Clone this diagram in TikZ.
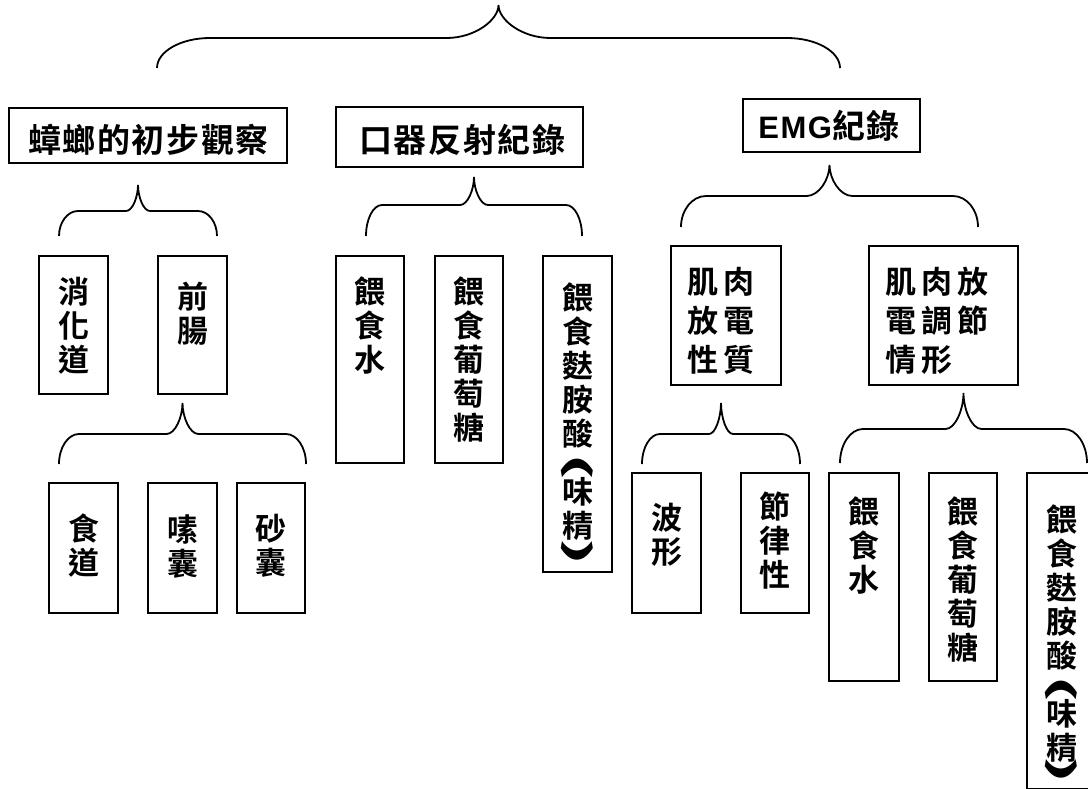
\documentclass[tikz,border=0pt]{standalone}
\usepackage{fontspec}
\newfontfamily\cjk{Noto Sans CJK TC}[UprightFont=* Bold]
\newfontfamily\cjkwide{Noto Sans CJK TC}[UprightFont=* Bold, LetterSpace=5]
\newfontfamily\cjkgrid{Noto Sans CJK TC}[UprightFont=* Bold, LetterSpace=16]
\newfontfamily\latinb{Liberation Sans}[UprightFont=* Bold, LetterSpace=5]

% curly bracket: left x, right x, end y, bar y, tip y, corner width, middle width
\newcommand{\kuohao}[7]{%
  \draw[brace] (#1,#3) .. controls (#1,{#4+0.45*(#3-#4)}) and ({#1+0.45*#6},#4) .. (#1+#6,#4)
    -- ({(#1+#2)/2-#7},#4) .. controls ({(#1+#2)/2-0.45*#7},#4) and ({(#1+#2)/2},{#5+0.45*(#4-#5)}) .. ({(#1+#2)/2},#5)
    .. controls ({(#1+#2)/2},{#5+0.45*(#4-#5)}) and ({(#1+#2)/2+0.45*#7},#4) .. ({(#1+#2)/2+#7},#4)
    -- (#2-#6,#4) .. controls ({#2-0.45*#6},#4) and (#2,{#4+0.45*(#3-#4)}) .. (#2,#3);}

\begin{document}
\begin{tikzpicture}[
       x=1pt, y=-1pt,
       box/.style={
         draw,
         line width=1.8pt,
         inner sep=0pt
       },
       vtxt/.style={
         font=\cjk\fontsize{31}{34}\selectfont,
         align=center,
         inner sep=0pt,
         anchor=north
       },
       kuo/.style={
         font=\cjk\fontsize{31}{34}\selectfont,
         rotate=-90,
         inner sep=0pt
       },
       gtxt/.style={
         font=\cjkgrid\fontsize{31}{39}\selectfont,
         align=left,
         inner sep=0pt,
         anchor=north west
       },
       ttxt/.style={
         font=\cjkwide\fontsize{33}{36}\selectfont,
         inner sep=0pt
       },
       brace/.style={line width=1.8pt}
     ]
       \useasboundingbox (0,0) rectangle (1088,788);

       % first row
       \node (guancha) at (148,135.5) [box, minimum width=278, minimum height=55]{};
       \node (kouqi) at (459.5,137) [box, minimum width=247, minimum height=60]{};
       \node (emg) at (831.5,125.5) [box, minimum width=177, minimum height=53]{};

       \node (guancha-t) at (148.5,140) [ttxt]{蟑螂的初步觀察};
       \node (kouqi-t) at (462.5,140) [ttxt]{口器反射紀錄};
       \node (emg-t) at (829,126) [ttxt]{{\latinb\fontsize{31}{36}\selectfont EMG}紀錄};

       % second row
       \node (xiaohua) at (73.5,325) [box, minimum width=69, minimum height=138]{};
       \node (qianchang) at (192.5,325) [box, minimum width=69, minimum height=138]{};
       \node (shui1) at (370,359.5) [box, minimum width=68, minimum height=207]{};
       \node (putao1) at (469,359.5) [box, minimum width=68, minimum height=207]{};
       \node (weijing1) at (577.5,414) [box, minimum width=69, minimum height=316]{};
       \node (xingzhi) at (726,315.5) [box, minimum width=110, minimum height=139]{};
       \node (tiaojie) at (943.5,315.5) [box, minimum width=149, minimum height=139]{};

       \node (xiaohua-t) at (73.5,277) [vtxt]{消\\化\\道};
       \node (qianchang-t) at (192.5,282) [vtxt]{前\\腸};
       \node (shui1-t) at (370,277) [vtxt]{餵\\食\\水};
       \node (putao1-t) at (469,277) [vtxt]{餵\\食\\葡\\萄\\糖};
       \node (weijing1-t) at (577.5,283) [vtxt]{餵\\食\\麩\\胺\\酸\\[24pt]味\\精};
       \node (weijing1-kl) at (577.5,467) [kuo]{\scalebox{2.5}[1]{(}};
       \node (weijing1-kr) at (577.5,552) [kuo]{\scalebox{2.5}[1]{)}};
       \node (xingzhi-t) at (687,267) [gtxt]{肌肉\\放電\\性質};
       \node (tiaojie-t) at (885,267) [gtxt]{肌肉放\\電調節\\情形};

       % third row
       \node (shidao) at (83.5,548) [box, minimum width=69, minimum height=130]{};
       \node (sunang) at (182.5,548) [box, minimum width=69, minimum height=130]{};
       \node (shanang) at (271,548) [box, minimum width=68, minimum height=130]{};
       \node (boxing) at (666.5,543) [box, minimum width=69, minimum height=140]{};
       \node (jielv) at (775,543) [box, minimum width=68, minimum height=140]{};
       \node (shui2) at (864,577) [box, minimum width=70, minimum height=208]{};
       \node (putao2) at (963,577) [box, minimum width=68, minimum height=208]{};
       \node (weijing2) at (1061.5,631) [box, minimum width=69, minimum height=316]{};

       \node (shidao-t) at (83.5,514) [vtxt]{食\\道};
       \node (sunang-t) at (182.5,514) [vtxt]{嗉\\囊};
       \node (shanang-t) at (271,514) [vtxt]{砂\\囊};
       \node (boxing-t) at (666.5,503) [vtxt]{波\\形};
       \node (jielv-t) at (775,492) [vtxt]{節\\律\\性};
       \node (shui2-t) at (864,497) [vtxt]{餵\\食\\水};
       \node (putao2-t) at (963,497) [vtxt]{餵\\食\\葡\\萄\\糖};
       \node (weijing2-t) at (1061.5,505) [vtxt]{餵\\食\\麩\\胺\\酸\\[24pt]味\\精};
       \node (weijing2-kl) at (1061.5,689) [kuo]{\scalebox{2.5}[1]{(}};
       \node (weijing2-kr) at (1061.5,770) [kuo]{\scalebox{2.5}[1]{)}};

       % brackets
       \kuohao{157}{840}{68}{38}{5}{53}{52}
       \kuohao{59}{217}{236}{211}{185}{19}{12}
       \kuohao{59}{306}{464}{434}{403}{20}{16}
       \kuohao{366}{582}{236}{205}{177}{16}{14}
       \kuohao{681}{978}{227}{196}{165}{25}{23}
       \kuohao{642}{800}{464}{434}{403}{18}{12}
       \kuohao{840}{1087}{463}{429}{393}{23}{18}

\end{tikzpicture}
\end{document}
